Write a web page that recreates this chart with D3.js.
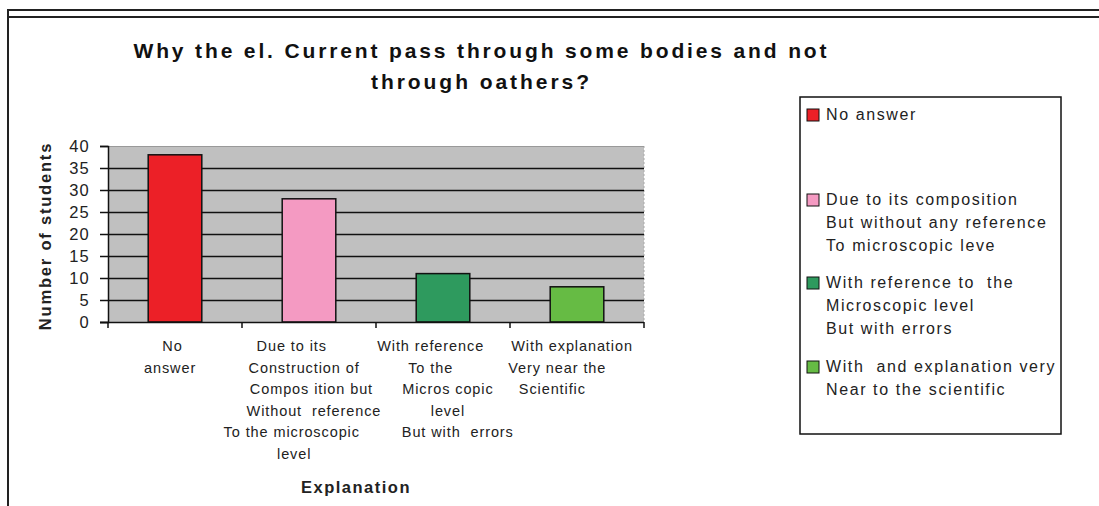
<!DOCTYPE html>
<html><head><meta charset="utf-8">
<script src="https://cdn.jsdelivr.net/npm/d3@7"></script>
<style>body{margin:0;background:#fff}svg{display:block}text{font-family:"Liberation Sans",Arial,sans-serif}</style>
</head><body><svg id="c" width="1099" height="506"></svg>
<script>
const categories = ["No answer","Due to its composition","With reference","With explanation"];
const values = [38, 28, 11, 8];
const colors = ["#EC2027","#F49AC2","#2E9A5E","#66BB44"];
// leading/trailing spaces reproduce the original label padding
const categoryLabels = [
  ["No ","answer  "],
  ["Due to its       ","Construction of  "," Compos ition but","  Without  reference","To the microscopic       ","level      "],
  ["With reference     ","To the     ","  Micros copic","  level","      But with  errors"],
  ["With explanation  ","Very near the        ","Scientific          "]
];
const legendLabels = [
  ["No answer"],
  ["Due to its composition","But without any reference","To microscopic leve"],
  ["With reference to  the","Microscopic level","But with errors"],
  ["With  and explanation very","Near to the scientific"]
];
const yTicks = [0,5,10,15,20,25,30,35,40];
const titleLines = ["Why the el. Current pass through some bodies and not","through oathers?"];
const yTitle = "Number of students";
const xTitle = "Explanation";

const svg = d3.select("#c");
// frame
svg.append("line").attr("x1",8).attr("x2",1099).attr("y1",10).attr("y2",10).attr("stroke","#222").attr("stroke-width",2);
svg.append("line").attr("x1",8).attr("x2",1099).attr("y1",17).attr("y2",17).attr("stroke","#222").attr("stroke-width",2);
svg.append("line").attr("x1",8).attr("x2",8).attr("y1",9).attr("y2",506).attr("stroke","#222").attr("stroke-width",2);

// title
const titleLen = [693, 218];
svg.append("g").selectAll("text").data(titleLines).join("text")
  .attr("x",480).attr("y",(d,i)=>58+i*31).attr("text-anchor","middle").attr("font-weight","bold").attr("font-size",21).attr("fill","#111")
  .attr("textLength",(d,i)=>titleLen[i]).attr("lengthAdjust","spacing").text(d=>d);

const L=108, R=644, T=146, B=322;
const x = d3.scaleBand().domain(categories).range([L,R]).paddingInner(0.6).paddingOuter(0.3);
const y = d3.scaleLinear().domain([0,40]).range([B,T]);

svg.append("rect").attr("x",L).attr("y",T).attr("width",R-L).attr("height",B-T).attr("fill","#C0C0C0");
svg.append("line").attr("x1",R).attr("x2",R).attr("y1",T).attr("y2",B).attr("stroke","#aaa").attr("stroke-dasharray","2,2");
svg.append("line").attr("x1",L).attr("x2",R).attr("y1",T+0.5).attr("y2",T+0.5).attr("stroke","#999");
svg.append("g").selectAll("line").data(yTicks.filter(t=>t>0&&t<40)).join("line")
  .attr("x1",L).attr("x2",R).attr("y1",d=>Math.round(y(d))+0.5).attr("y2",d=>Math.round(y(d))+0.5).attr("stroke","#111").attr("stroke-width",1.5);

svg.append("g").selectAll("rect").data(values).join("rect")
  .attr("x",(d,i)=>x(categories[i])).attr("width",x.bandwidth())
  .attr("y",d=>y(d)).attr("height",d=>B-y(d))
  .attr("fill",(d,i)=>colors[i]).attr("stroke","#111").attr("stroke-width",1.5);

// y axis
const ya = svg.append("g").attr("transform",`translate(${L},0)`)
  .call(d3.axisLeft(y).tickValues(yTicks).tickSize(8).tickPadding(10));
ya.select(".domain").attr("stroke","#111").attr("stroke-width",1.5);
ya.selectAll("line").attr("stroke","#111").attr("stroke-width",1.5);
ya.selectAll("text").attr("font-size",16.5).attr("fill","#222").attr("font-family","Liberation Sans, Arial").attr("letter-spacing",1.2);

// x axis
const xa = svg.append("g").attr("transform",`translate(0,${B})`);
xa.append("line").attr("x1",L-8).attr("x2",R).attr("y1",0.5).attr("y2",0.5).attr("stroke","#111").attr("stroke-width",1.5);
const bounds = categories.map(c=>x(c)-x.step()*x.paddingOuter()).concat([R]);
xa.selectAll(".tk").data(bounds).join("line").attr("class","tk")
  .attr("x1",d=>d).attr("x2",d=>d).attr("y1",0).attr("y2",6).attr("stroke","#111").attr("stroke-width",1.5);

// category labels (padding spaces converted to a horizontal shift)
const catFont = 14.5, catLS = 0.9, spaceW = catFont*0.278 + catLS;
categoryLabels.forEach((lines,i)=>{
  const cx = x(categories[i]) + x.bandwidth()/2;
  svg.append("text").attr("text-anchor","middle").attr("font-size",catFont).attr("fill","#222").attr("letter-spacing",catLS).attr("xml:space","preserve")
    .selectAll("tspan").data(lines).join("tspan")
    .attr("x",d=>{
      const lead = d.length - d.trimStart().length, trail = d.length - d.trimEnd().length;
      return cx + (lead - trail)*spaceW/2;
    })
    .attr("y",(d,j)=>351+j*21.5).text(d=>d.trim());
});

svg.append("text").attr("x",356).attr("y",493).attr("text-anchor","middle").attr("font-weight","bold").attr("font-size",16.5).attr("letter-spacing",1.5).attr("fill","#222").text(xTitle);
svg.append("text").attr("transform","translate(51,236) rotate(-90)").attr("text-anchor","middle").attr("font-weight","bold").attr("font-size",16.5).attr("letter-spacing",1.8).attr("fill","#222").text(yTitle);

// legend
svg.append("rect").attr("x",800).attr("y",97).attr("width",261).attr("height",337).attr("fill","#fff").attr("stroke","#111").attr("stroke-width",1.5);
const itemY = [115, 200, 283, 367];
legendLabels.forEach((lines,i)=>{
  svg.append("rect").attr("x",807).attr("y",itemY[i]-6).attr("width",12).attr("height",12).attr("fill",colors[i]).attr("stroke","#111");
  svg.append("text").attr("font-size",16).attr("fill","#222").attr("letter-spacing",1.6).attr("xml:space","preserve")
    .selectAll("tspan").data(lines).join("tspan").attr("x",826).attr("y",(d,j)=>itemY[i]+5+j*23).text(d=>d);
});
</script></body></html>
